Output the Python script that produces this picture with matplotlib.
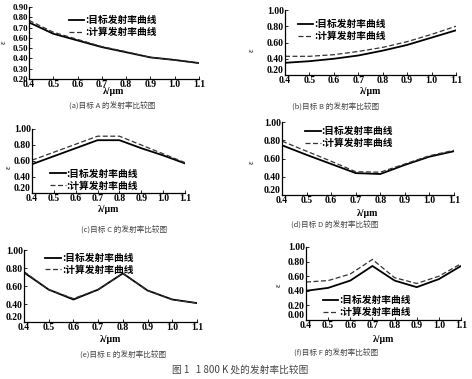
import matplotlib.pyplot as plt

# wavelength (um), same for every panel
wl = [0.4, 0.5, 0.6, 0.7, 0.8, 0.9, 1.0, 1.1]
x_ticks = [0.4, 0.5, 0.6, 0.7, 0.8, 0.9, 1.0, 1.1]

# (a) target A
a_target = [0.75, 0.64, 0.575, 0.51, 0.46, 0.41, 0.385, 0.355]
a_calc = [0.77, 0.655, 0.585, 0.515, 0.465, 0.41, 0.385, 0.355]
# (b) target B
b_target = [0.35, 0.37, 0.40, 0.44, 0.50, 0.57, 0.66, 0.75]
b_calc = [0.43, 0.43, 0.45, 0.49, 0.54, 0.61, 0.70, 0.80]
# (c) target C
c_target = [0.56, 0.66, 0.76, 0.86, 0.86, 0.76, 0.67, 0.57]
c_calc = [0.61, 0.71, 0.81, 0.91, 0.91, 0.80, 0.69, 0.58]
# (d) target D
d_target = [0.745, 0.64, 0.54, 0.44, 0.43, 0.53, 0.62, 0.68]
d_calc = [0.79, 0.68, 0.57, 0.455, 0.45, 0.54, 0.63, 0.69]
# (e) target E
e_target = [0.75, 0.56, 0.45, 0.56, 0.74, 0.55, 0.45, 0.41]
e_calc = [0.76, 0.56, 0.46, 0.56, 0.74, 0.55, 0.45, 0.41]
# (f) target F
f_target = [0.40, 0.44, 0.54, 0.74, 0.54, 0.45, 0.56, 0.74]
f_calc = [0.52, 0.54, 0.63, 0.83, 0.58, 0.50, 0.60, 0.77]

y_ticks_a = [0.20, 0.30, 0.40, 0.50, 0.60, 0.70, 0.80, 0.90]
y_ticks_bcde = [0.20, 0.40, 0.60, 0.80, 1.00]
y_ticks_f = [0.00, 0.20, 0.40, 0.60, 0.80, 1.00]

captions = ['(a)目标 A 的发射率比较图', '(b)目标 B 的发射率比较图',
            '(c)目标 C 的发射率比较图', '(d)目标 D 的发射率比较图',
            '(e)目标 E 的发射率比较图', '(f)目标 F 的发射率比较图']
fig_caption = '图 1   1 800 K 处的发射率比较图'
leg_target = ':目标发射率曲线'
leg_calc = ':计算发射率曲线'

W, H = 472, 379
cjk = ['Noto Sans CJK SC', 'DejaVu Sans']
serif = 'Liberation Serif'


def px(x, y):
    return x / W, 1 - y / H


fig = plt.figure(figsize=(W / 100, H / 100), dpi=100)

# panel boxes in pixels: left, right, top, bottom
panels = [
    dict(box=(29, 199, 7, 79), t=a_target, c=a_calc, yt=y_ticks_a, ylim=(0.2, 0.9),
         leg=(0.2, 0.97), cap=(112, 106), xl=92, eps=(4, 42), yfs=6.3, low='center_baseline'),
    dict(box=(285, 456, 10, 75), t=b_target, c=b_calc, yt=y_ticks_bcde, ylim=(0.2, 1.0),
         leg=(0.04, 0.95), cap=(336, 107), xl=91, eps=(252, 50), yfs=7, low='bottom'),
    dict(box=(32, 185, 129, 193), t=c_target, c=c_calc, yt=y_ticks_bcde, ylim=(0.2, 1.0),
         leg=(0.08, 0.47), cap=(124, 230), xl=209, eps=(9, 167), yfs=7, low='bottom'),
    dict(box=(282, 454, 122, 195), t=d_target, c=d_calc, yt=y_ticks_bcde, ylim=(0.2, 1.0),
         leg=(0.1, 1.02), cap=(335, 225), xl=213, eps=(252, 162), yfs=7, low='bottom'),
    dict(box=(24, 197, 250, 322), t=e_target, c=e_calc, yt=y_ticks_bcde, ylim=(0.2, 1.0),
         leg=(0.09, 1.04), cap=(123, 355), xl=340, eps=None, yfs=7, low='bottom'),
    dict(box=(306, 461, 247, 320), t=f_target, c=f_calc, yt=y_ticks_f, ylim=(0.0, 1.0),
         leg=(0.07, 0.42), cap=(336, 353), xl=339, eps=(279, 285), yfs=7, low='bottom'),
]

for p, cap in zip(panels, captions):
    l, r, t, b = p['box']
    ax = fig.add_axes([l / W, 1 - b / H, (r - l) / W, (b - t) / H])
    ax.plot(wl, p['t'], color='black', lw=1.3, label=leg_target)
    ax.plot(wl, p['c'], color='#333333', lw=0.9, dashes=(4, 2), label=leg_calc)
    ax.set_xlim(0.4, 1.1)
    ax.set_ylim(*p['ylim'])
    ax.set_xticks(x_ticks)
    ax.set_xticklabels([f'{v:.1f}' for v in x_ticks], fontfamily=serif,
                       fontweight='bold', fontsize=7)
    ax.set_yticks(p['yt'])
    ylabels = ax.set_yticklabels([f'{v:.2f}' for v in p['yt']], fontfamily=serif,
                                 fontweight='bold', fontsize=p['yfs'])
    # lowest y label sits just above the x axis, as in the scan
    ylabels[0].set_va(p['low'])
    ax.tick_params(direction='in', length=2, width=0.6, pad=0.8)
    for s in ['top', 'right']:
        ax.spines[s].set_visible(False)
    for s in ['left', 'bottom']:
        ax.spines[s].set_linewidth(0.9)
    ax.legend(loc='upper left', bbox_to_anchor=p['leg'], frameon=False,
              prop={'family': cjk, 'size': 7, 'weight': 'bold'},
              handlelength=1.6, handletextpad=0.1, labelspacing=0.2,
              borderpad=0.1)
    fig.text(*px((l + r) / 2, p['xl']), 'λ/μm', ha='center', va='center',
             fontsize=7, fontfamily=serif, fontweight='bold')
    fig.text(*px(*p['cap']), cap, ha='center', va='center', fontsize=5.5,
             family=cjk, color='#444444')
    if p['eps']:
        fig.text(*px(*p['eps']), 'ε', ha='center', va='center', fontsize=6,
                 fontfamily=serif, rotation=90)

fig.text(*px(240, 370), fig_caption, ha='center', va='center', fontsize=7,
         family=cjk, color='#444444')

plt.savefig('out.png', dpi=100)
